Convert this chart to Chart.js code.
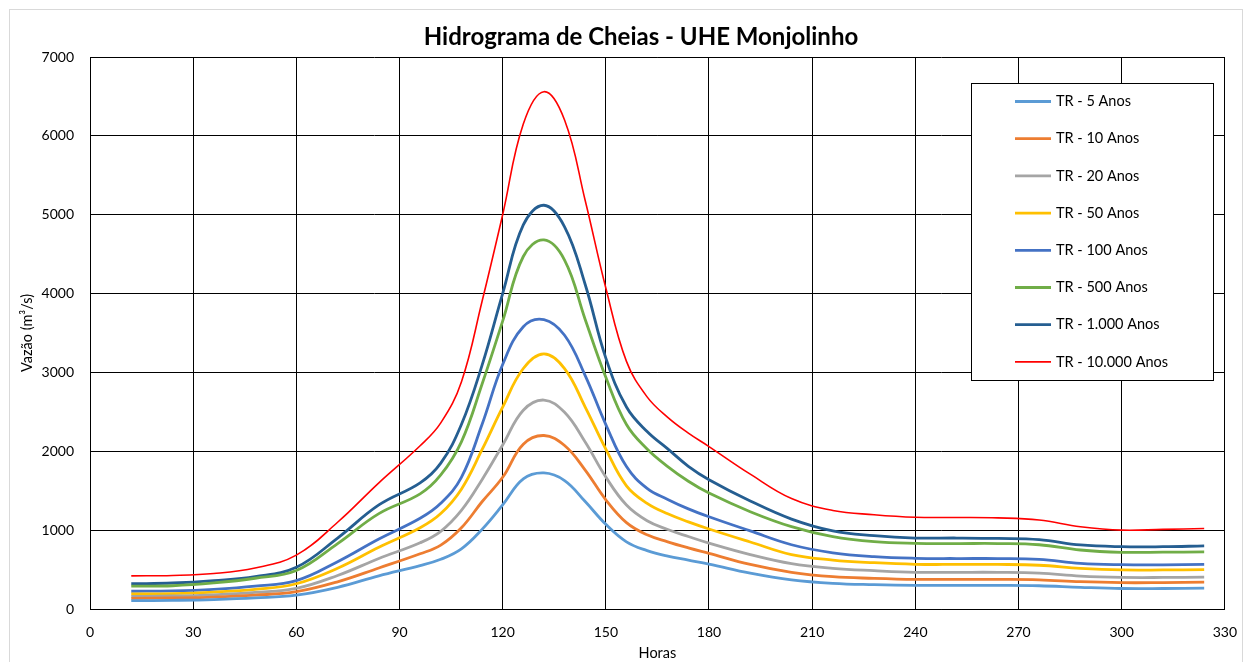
<!DOCTYPE html>
<html>
<head>
<meta charset="utf-8">
<script src="https://cdn.jsdelivr.net/npm/chart.js@4.4.0/dist/chart.umd.min.js"></script>
<style>
  html, body { margin: 0; padding: 0; background: #fff; }
  #wrap { position: relative; width: 1252px; height: 662px; }
</style>
</head>
<body>
<div id="wrap"><canvas id="hidrograma"></canvas></div>
<script>
// horas (12 h nas pontas, 6 h perto do pico)
const horas = [12, 24, 36, 48, 60, 72, 84,
  96, 102, 108, 114, 120, 126, 132, 138, 144, 150, 156, 162, 168, 174, 180,
  192, 204, 216, 228, 240, 252, 264, 276, 288, 300, 312, 324];

const tr5 = [105, 110, 120, 140, 175, 275, 420,
  550, 630, 763, 1010, 1320, 1650, 1725, 1629, 1363, 1074, 852, 741, 670, 620, 570,
  455, 370, 326, 309, 300, 300, 300, 295, 275, 260, 260, 265];
const tr10 = [135, 140, 150, 175, 220, 345, 520,
  700, 810, 1030, 1360, 1670, 2090, 2200, 2073, 1762, 1385, 1096, 941, 852, 775, 705,
  565, 465, 410, 389, 376, 375, 375, 370, 346, 334, 335, 340];
const tr20 = [160, 165, 180, 210, 262, 425, 640,
  840, 985, 1250, 1640, 2080, 2520, 2650, 2494, 2117, 1673, 1318, 1119, 1008, 919, 835,
  690, 575, 516, 486, 465, 465, 465, 455, 418, 401, 400, 405];
const tr50 = [190, 195, 215, 250, 320, 516, 782,
  1030, 1210, 1520, 2020, 2560, 3050, 3235, 3049, 2561, 2028, 1562, 1340, 1207, 1105, 1015,
  850, 690, 621, 587, 567, 565, 565, 555, 516, 495, 495, 500];
const tr100 = [225, 230, 250, 290, 360, 600, 888,
  1150, 1340, 1670, 2340, 3100, 3580, 3670, 3471, 2960, 2339, 1806, 1530, 1390, 1270, 1170,
  990, 815, 712, 663, 643, 640, 640, 630, 579, 562, 560, 565];
const tr500 = [290, 295, 330, 390, 488, 830, 1210,
  1460, 1700, 2120, 2850, 3650, 4470, 4680, 4425, 3671, 2938, 2339, 2028, 1806, 1620, 1470,
  1234, 1044, 917, 854, 833, 830, 830, 815, 748, 719, 720, 725];
const tr1000 = [320, 330, 360, 410, 530, 900, 1320,
  1600, 1850, 2340, 3090, 4000, 4870, 5120, 4847, 4115, 3182, 2561, 2250, 2030, 1810, 1640,
  1370, 1140, 990, 930, 900, 900, 895, 880, 812, 790, 790, 800];
const tr10000 = [420, 425, 450, 520, 683, 1100, 1600,
  2070, 2360, 2880, 3900, 5000, 6150, 6560, 6200, 5180, 4070, 3140, 2690, 2430, 2230, 2060,
  1710, 1400, 1250, 1195, 1163, 1160, 1155, 1128, 1044, 1000, 1010, 1020];

const nomes = ['TR - 5 Anos', 'TR - 10 Anos', 'TR - 20 Anos', 'TR - 50 Anos',
  'TR - 100 Anos', 'TR - 500 Anos', 'TR - 1.000 Anos', 'TR - 10.000 Anos'];
const series = [tr5, tr10, tr20, tr50, tr100, tr500, tr1000, tr10000];
const cores = ['#5B9BD5', '#ED7D31', '#A5A5A5', '#FFC000', '#4472C4', '#70AD47', '#255E91', '#FF0000'];

const titulo = 'Hidrograma de Cheias - UHE Monjolinho';
const fonte = 'Lato, "Open Sans", sans-serif';

const datasets = series.map((s, i) => ({
  label: nomes[i],
  data: s.map((v, j) => ({ x: horas[j], y: v })),
  borderColor: cores[i],
  backgroundColor: cores[i],
  borderWidth: i === 7 ? 1.6 : 2.8,
  pointRadius: 0,
  tension: 0.4,
  fill: false,
}));

// moldura externa, titulo e legenda em caixa dentro do grafico
const legendaBox = {
  id: 'legendaBox',
  beforeDraw(chart) {
    const ctx = chart.ctx;
    ctx.save();
    ctx.strokeStyle = '#d9d9d9';
    ctx.lineWidth = 1;
    ctx.strokeRect(9.5, 9.5, 1233, 700);
    ctx.fillStyle = '#000';
    ctx.font = 'bold 24px ' + fonte;
    ctx.textAlign = 'center';
    ctx.textBaseline = 'middle';
    ctx.fillText(titulo, 641, 37);
    ctx.restore();
  },
  afterDraw(chart) {
    const ctx = chart.ctx;
    const x0 = 971, y0 = 83, w = 242, h = 297;
    ctx.save();
    ctx.fillStyle = '#fff';
    ctx.fillRect(x0, y0, w, h);
    ctx.strokeStyle = '#000';
    ctx.lineWidth = 1;
    ctx.strokeRect(x0 + 0.5, y0 + 0.5, w, h);
    ctx.font = '14.5px ' + fonte;
    ctx.textBaseline = 'middle';
    ctx.fillStyle = '#000';
    chart.data.datasets.forEach((ds, i) => {
      const y = 101.5 + i * 37.2;
      ctx.strokeStyle = ds.borderColor;
      ctx.lineWidth = i === 7 ? 1.6 : 2.8;
      ctx.beginPath();
      ctx.moveTo(1015, y);
      ctx.lineTo(1051, y);
      ctx.stroke();
      ctx.fillText(ds.label, 1056, y);
    });
    ctx.restore();
  }
};

new Chart(document.getElementById('hidrograma'), {
  type: 'line',
  data: { datasets: datasets },
  plugins: [legendaBox],
  options: {
    responsive: true,
    maintainAspectRatio: false,
    animation: false,
    layout: { padding: { left: 19, right: 26, top: 57, bottom: 0 } },
    plugins: {
      legend: { display: false },
      tooltip: { enabled: false },
      title: { display: false },
    },
    scales: {
      x: {
        type: 'linear',
        min: 0,
        max: 330,
        ticks: { stepSize: 30, color: '#000', font: { family: fonte, size: 14 }, padding: 15 },
        grid: { color: '#000', drawTicks: false },
        border: { color: '#000' },
        title: { display: true, text: 'Horas', color: '#000', font: { family: fonte, size: 14.5 }, padding: 0 },
        afterFit(scale) { scale.height = 53; },
      },
      y: {
        min: 0,
        max: 7000,
        ticks: {
          stepSize: 1000, color: '#000', font: { family: fonte, size: 14 }, padding: 16,
          callback: (v) => String(v),
        },
        grid: { color: '#000', drawTicks: false },
        border: { color: '#000' },
        title: { display: true, text: 'Vazão (m³/s)', color: '#000', font: { family: fonte, size: 14.5 }, padding: 0 },
        afterFit(scale) { scale.width = 71; },
      },
    },
  },
});
</script>
</body>
</html>
